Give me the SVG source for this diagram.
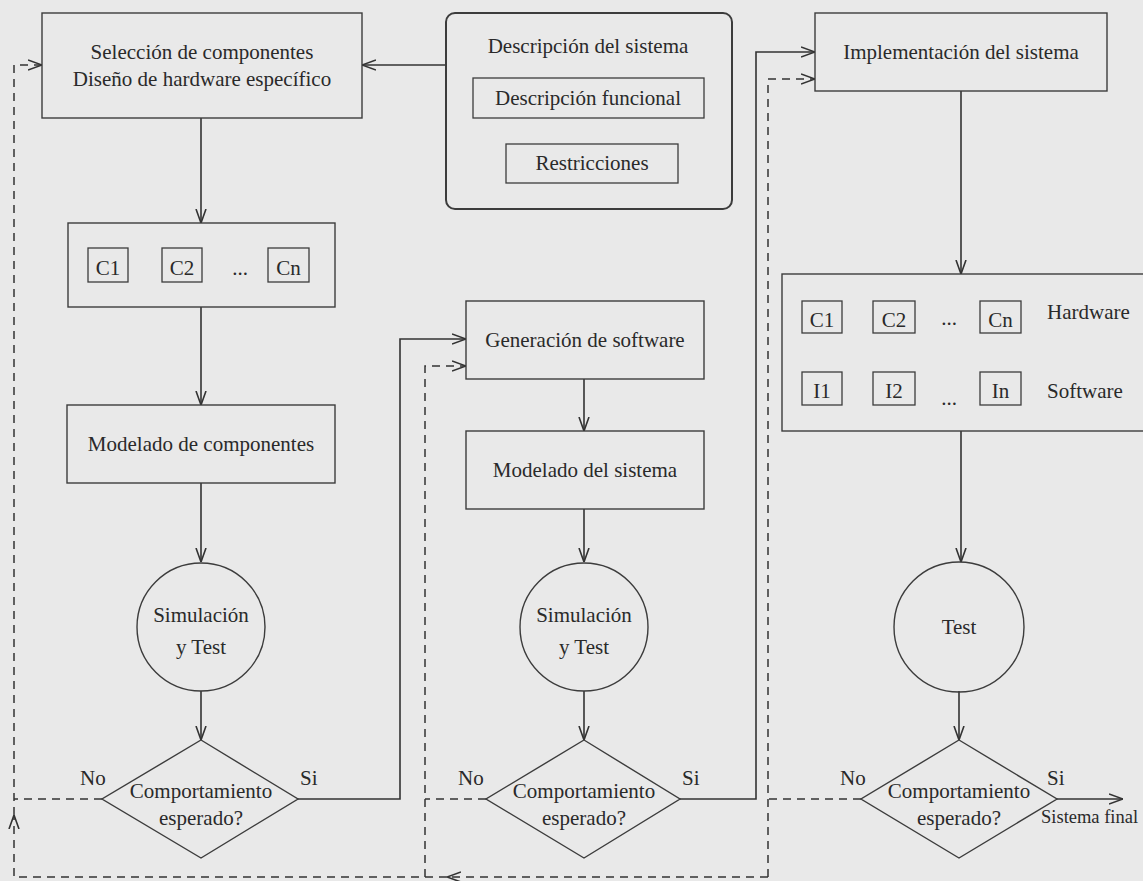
<svg xmlns="http://www.w3.org/2000/svg" width="1143" height="881" viewBox="0 0 1143 881">
<defs>
<style>
.bx{fill:none;stroke:#3c3c3c;stroke-width:1.4}
.sb{fill:none;stroke:#3c3c3c;stroke-width:1.3}
.ln{fill:none;stroke:#333;stroke-width:1.6}
.ds{fill:none;stroke:#333;stroke-width:1.5;stroke-dasharray:8 6}
text{font-family:"Liberation Serif","Times New Roman",serif;font-size:21px;fill:#2a2a2a}
.c{text-anchor:middle}
</style>
<marker id="ah" viewBox="0 0 14 12" refX="14" refY="6" markerWidth="14" markerHeight="12" markerUnits="userSpaceOnUse" orient="auto">
<path d="M0,1 L14,6 L0,11" fill="none" stroke="#333" stroke-width="1.6"/>
</marker>
</defs>
<rect x="0" y="0" width="1143" height="881" fill="#e9e9e9"/>

<g id="connectors">
<path class="ln" d="M446,65 H362" marker-end="url(#ah)"/>
<path class="ln" d="M201,118 V223" marker-end="url(#ah)"/>
<path class="ln" d="M201,307 V405" marker-end="url(#ah)"/>
<path class="ln" d="M201,483 V562" marker-end="url(#ah)"/>
<path class="ln" d="M201,691 V740" marker-end="url(#ah)"/>
<path class="ln" d="M298,799 H400 V339 H466" marker-end="url(#ah)"/>
<path class="ln" d="M584,379 V431" marker-end="url(#ah)"/>
<path class="ln" d="M584,509 V562" marker-end="url(#ah)"/>
<path class="ln" d="M584,691 V740" marker-end="url(#ah)"/>
<path class="ln" d="M680,799 H756 V52 H815" marker-end="url(#ah)"/>
<path class="ln" d="M961,91 V274" marker-end="url(#ah)"/>
<path class="ln" d="M961,431 V562" marker-end="url(#ah)"/>
<path class="ln" d="M959,691 V740" marker-end="url(#ah)"/>
<path class="ln" d="M1057,799 H1123" marker-end="url(#ah)"/>
<path class="ds" d="M102,799 H14"/>
<path class="ds" d="M486,799 H425"/>
<path class="ds" d="M861,799 H768"/>
<path class="ds" d="M768,877 H447" marker-end="url(#ah)"/>
<path class="ds" d="M447,877 H14 V815" marker-end="url(#ah)"/>
<path class="ds" d="M14,815 V65 H42" marker-end="url(#ah)"/>
<path class="ds" d="M425,877 V366 H466" marker-end="url(#ah)"/>
<path class="ds" d="M768,877 V79 H815" marker-end="url(#ah)"/>
</g>

<g id="seleccion">
<rect class="bx" x="42" y="13" width="320" height="105"/>
<text class="c" x="202" y="59">Selección de componentes</text>
<text class="c" x="202" y="86">Diseño de hardware específico</text>
</g>

<g id="descripcion">
<rect class="bx" x="446" y="13" width="286" height="196" rx="9" style="stroke-width:2"/>
<text class="c" x="588" y="53">Descripción del sistema</text>
<rect class="sb" x="473" y="78" width="231" height="40"/>
<text class="c" x="588" y="105">Descripción funcional</text>
<rect class="sb" x="506" y="144" width="172" height="39"/>
<text class="c" x="592" y="170">Restricciones</text>
</g>

<g id="implementacion">
<rect class="bx" x="815" y="13" width="292" height="78"/>
<text class="c" x="961" y="59">Implementación del sistema</text>
</g>

<g id="componentes">
<rect class="bx" x="68" y="223" width="267" height="84"/>
<rect class="sb" x="88" y="248" width="40" height="34"/>
<text class="c" x="108" y="275">C1</text>
<rect class="sb" x="162" y="248" width="40" height="34"/>
<text class="c" x="182" y="275">C2</text>
<text class="c" x="240" y="275">...</text>
<rect class="sb" x="268" y="248" width="41" height="34"/>
<text class="c" x="288.5" y="275">Cn</text>
</g>

<g id="modelado-componentes">
<rect class="bx" x="67" y="405" width="268" height="78"/>
<text class="c" x="201" y="451">Modelado de componentes</text>
</g>

<g id="simulacion1">
<circle class="bx" cx="201" cy="627" r="64"/>
<text class="c" x="201" y="622">Simulación</text>
<text class="c" x="201" y="654">y Test</text>
</g>

<g id="decision1">
<polygon class="bx" points="201,740 298,799 201,858 102,799"/>
<text class="c" x="201" y="798">Comportamiento</text>
<text class="c" x="201" y="825">esperado?</text>
<text x="80" y="785">No</text>
<text x="300" y="785">Si</text>
</g>

<g id="generacion">
<rect class="bx" x="466" y="301" width="238" height="78"/>
<text class="c" x="585" y="347">Generación de software</text>
</g>

<g id="modelado-sistema">
<rect class="bx" x="466" y="431" width="238" height="78"/>
<text class="c" x="585" y="477">Modelado del sistema</text>
</g>

<g id="simulacion2">
<circle class="bx" cx="584" cy="627" r="64"/>
<text class="c" x="584" y="622">Simulación</text>
<text class="c" x="584" y="654">y Test</text>
</g>

<g id="decision2">
<polygon class="bx" points="584,740 680,799 584,858 486,799"/>
<text class="c" x="584" y="798">Comportamiento</text>
<text class="c" x="584" y="825">esperado?</text>
<text x="458" y="785">No</text>
<text x="682" y="785">Si</text>
</g>

<g id="hwsw">
<rect class="bx" x="782" y="274" width="365" height="157"/>
<rect class="sb" x="802" y="301" width="40" height="32"/>
<text class="c" x="822" y="327">C1</text>
<rect class="sb" x="873" y="301" width="42" height="32"/>
<text class="c" x="894" y="327">C2</text>
<text class="c" x="949" y="325">...</text>
<rect class="sb" x="980" y="301" width="41" height="32"/>
<text class="c" x="1000.5" y="327">Cn</text>
<text x="1047" y="319">Hardware</text>
<rect class="sb" x="802" y="372" width="40" height="33"/>
<text class="c" x="822" y="398">I1</text>
<rect class="sb" x="873" y="372" width="42" height="33"/>
<text class="c" x="894" y="398">I2</text>
<text class="c" x="949" y="405">...</text>
<rect class="sb" x="980" y="372" width="41" height="33"/>
<text class="c" x="1000.5" y="398">In</text>
<text x="1047" y="398">Software</text>
</g>

<g id="test3">
<circle class="bx" cx="959" cy="627" r="65"/>
<text class="c" x="959" y="634">Test</text>
</g>

<g id="decision3">
<polygon class="bx" points="959,740 1057,799 959,858 861,799"/>
<text class="c" x="959" y="798">Comportamiento</text>
<text class="c" x="959" y="825">esperado?</text>
<text x="840" y="785">No</text>
<text x="1047" y="785">Si</text>
<text x="1041" y="823" style="font-size:18.5px">Sistema final</text>
</g>
</svg>
